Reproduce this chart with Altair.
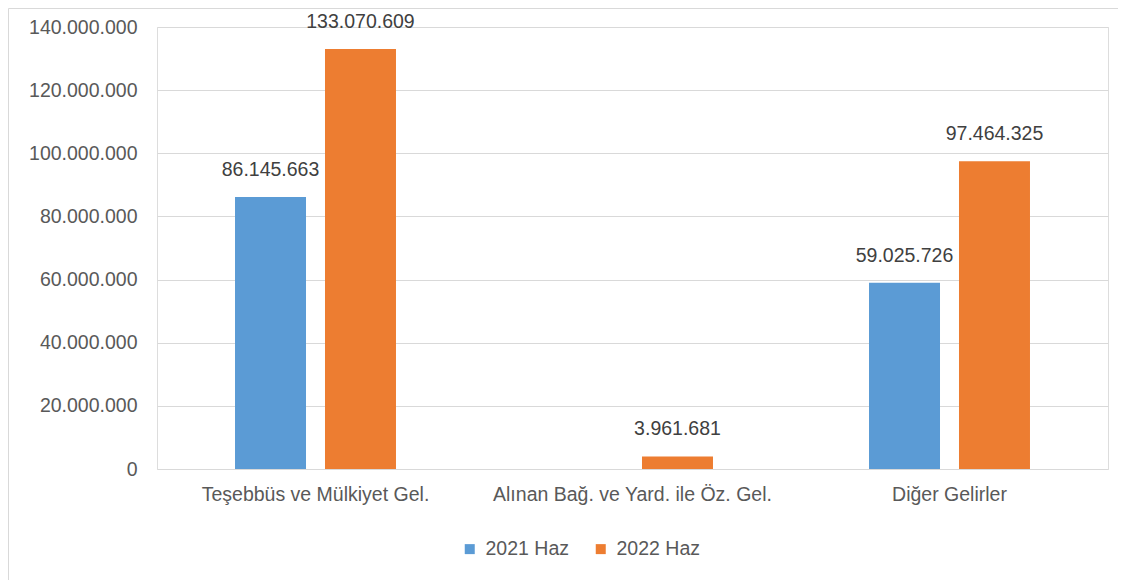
import altair as alt
import pandas as pd

categories = ["Teşebbüs ve Mülkiyet Gel.", "Alınan Bağ. ve Yard. ile Öz. Gel.", "Diğer Gelirler"]
series = ["2021 Haz", "2022 Haz"]
values_2021 = [86145663, None, 59025726]
values_2022 = [133070609, 3961681, 97464325]
colors = ["#5B9BD5", "#ED7D31"]

rows = []
for c, v1, v2 in zip(categories, values_2021, values_2022):
    if v1 is not None:
        rows.append({"cat": c, "ser": series[0], "val": v1})
    if v2 is not None:
        rows.append({"cat": c, "ser": series[1], "val": v2})
df = pd.DataFrame(rows)

FONT = "Liberation Sans"
GRAY = "#595959"
FS = 19.5

x = alt.X("cat:N", sort=categories, title=None,
          scale=alt.Scale(paddingInner=0, paddingOuter=0),
          axis=alt.Axis(labelAngle=0, labelPadding=16, ticks=False, domain=False, labelLimit=0,
                        labelFontSize=FS, labelColor=GRAY, labelFont=FONT))
xo = alt.XOffset("ser:N", sort=series,
                 scale=alt.Scale(paddingInner=0.211, paddingOuter=0.867))
y = alt.Y("val:Q", title=None,
          scale=alt.Scale(domain=[0, 140000000]),
          axis=alt.Axis(values=list(range(0, 140000001, 20000000)), format=",.0f",
                        labelPadding=20, ticks=False, domain=False,
                        labelFontSize=FS, labelColor=GRAY, labelFont=FONT,
                        gridColor="#D9D9D9", gridWidth=1))

base = alt.Chart(df)
bars = base.mark_bar().encode(
    x=x, xOffset=xo, y=y,
    color=alt.Color("ser:N", sort=series, title=None,
                    scale=alt.Scale(domain=series, range=colors),
                    legend=alt.Legend(orient="none", legendX=303, legendY=512,
                                      direction="horizontal", symbolType="square",
                                      symbolSize=100, symbolStrokeWidth=0,
                                      labelFontSize=FS, labelColor=GRAY, labelFont=FONT,
                                      columnPadding=22, labelOffset=6)),
)
labels = base.mark_text(baseline="bottom", dy=-17, fontSize=FS, color="#404040", font=FONT).encode(
    x=x, xOffset=xo, y=y, text=alt.Text("val:Q", format=",.0f"),
)

frame = alt.Chart(pd.DataFrame({"a": [0]})).mark_rect(
    filled=False, stroke="#D9D9D9", strokeWidth=1
).encode(x=alt.value(-148.5), x2=alt.value(975), y=alt.value(-18.5), y2=alt.value(575))

chart = alt.layer(frame, bars, labels).properties(
    width=951, height=442,
    autosize=alt.AutoSizeParams(type="none"),
    padding={"left": 149, "top": 19, "right": 10, "bottom": 111},
).configure_view(stroke=None).configure(
    locale=alt.Locale(number=alt.NumberLocale(decimal=",", thousands=".", grouping=[3], currency=["", " TL"]))
)

chart.save("out.html", embed_options={"renderer": "svg", "actions": False})
